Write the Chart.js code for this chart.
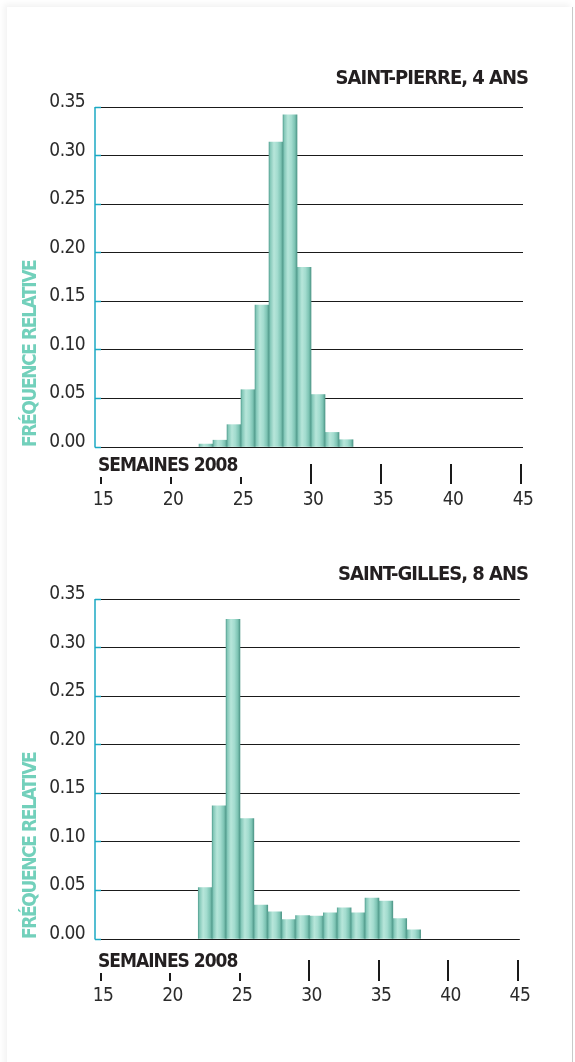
<!DOCTYPE html>
<html>
<head>
<meta charset="utf-8">
<script src="https://cdn.jsdelivr.net/npm/chart.js@4/dist/chart.umd.min.js"></script>
<style>
  html, body { margin:0; padding:0; background:#fff; }
  body { width:575px; height:1062px; position:relative; overflow:hidden; }
  #card { position:absolute; left:7px; top:7px; width:565px; height:1100px;
          border-right:1px solid #c9c9c9; box-shadow:-3px -3px 6px rgba(0,0,0,0.05); background:#fff; }
  canvas { position:absolute; left:0; }
  #c1 { top:0; }
  #c2 { top:492px; }
</style>
</head>
<body>
<div id="card"></div>
<canvas id="c1" width="575" height="531"></canvas>
<canvas id="c2" width="575" height="570"></canvas>
<script>
// ---- data ----
const titles = ['SAINT-PIERRE, 4 ANS', 'SAINT-GILLES, 8 ANS'];
const xAxisLabel = 'SEMAINES 2008';
const yAxisLabel = 'FRÉQUENCE RELATIVE';
const xTicks = [15, 20, 25, 30, 35, 40, 45];
const yTicks = [0, 0.05, 0.10, 0.15, 0.20, 0.25, 0.30, 0.35];

const weeksStPierre = [22, 23, 24, 25, 26, 27, 28, 29, 30, 31, 32];
const freqStPierre  = [0.003, 0.007, 0.023, 0.059, 0.146, 0.314, 0.342, 0.185, 0.054, 0.015, 0.0075];

const weeksStGilles = [22, 23, 24, 25, 26, 27, 28, 29, 30, 31, 32, 33, 34, 35, 36, 37];
const freqStGilles  = [0.053, 0.137, 0.329, 0.124, 0.035, 0.028, 0.020, 0.024, 0.0235, 0.027, 0.032, 0.027, 0.042, 0.039, 0.021, 0.0095];

const FONT = "'DejaVu Sans Condensed', 'Liberation Sans Narrow', sans-serif";

function barFill(c) {
  const chart = c.chart;
  if (!chart.chartArea || !c.raw) return '#96d6c8';
  const xs = chart.scales.x;
  const x0 = xs.getPixelForValue(c.raw.x - 0.5);
  const x1 = xs.getPixelForValue(c.raw.x + 0.5);
  const g = chart.ctx.createLinearGradient(x0, 0, x1, 0);
  g.addColorStop(0, '#5aa596');
  g.addColorStop(0.1, '#86c9ba');
  g.addColorStop(0.35, '#b7e6da');
  g.addColorStop(0.6, '#a3dccf');
  g.addColorStop(0.85, '#7cc3b3');
  g.addColorStop(1, '#4f9788');
  return g;
}

const decor = {
  id: 'decor',
  beforeDraw(chart) {
    chart.ctx.letterSpacing = '-0.6px';
    const y = chart.scales.y;
    if (!y._lsPatched) {
      const orig = y.drawTitle;
      y.drawTitle = function () {
        this.ctx.save();
        this.ctx.letterSpacing = '-1.4px';
        orig.apply(this, arguments);
        this.ctx.restore();
      };
      y._lsPatched = true;
    }
  },
  afterDraw(chart, args, o) {
    const {ctx, chartArea} = chart;
    const x = chart.scales.x, y = chart.scales.y;
    const base = y.getPixelForValue(0);
    ctx.save();
    // cyan y axis line
    ctx.strokeStyle = '#1ba8c3';
    ctx.lineWidth = 1.5;
    ctx.beginPath();
    ctx.moveTo(chartArea.left - 6, y.getPixelForValue(yTicks[yTicks.length - 1]));
    ctx.lineTo(chartArea.left - 6, base + 0.5);
    ctx.stroke();
    // x tick marks
    ctx.strokeStyle = '#1a1a1a';
    ctx.lineWidth = 2;
    xTicks.forEach(v => {
      const px = Math.round(x.getPixelForValue(v));
      const t = v >= 30 ? o.longTop : o.shortTop;
      ctx.beginPath();
      ctx.moveTo(px, base + t);
      ctx.lineTo(px, base + o.tickBottom);
      ctx.stroke();
    });
    // x axis label
    ctx.fillStyle = '#231f20';
    ctx.font = "bold 19px " + FONT;
    ctx.letterSpacing = '-1px';
    ctx.textBaseline = 'middle';
    ctx.textAlign = 'left';
    ctx.fillText(xAxisLabel, 98, base + o.semY);
    // title
    ctx.font = "bold 20px " + FONT;
    ctx.letterSpacing = '-1px';
    ctx.textAlign = 'right';
    ctx.fillText(o.title, 528, o.titleY);
    ctx.restore();
  }
};

function makeChart(id, weeks, freqs, o) {
  return new Chart(document.getElementById(id), {
    type: 'bar',
    data: {
      datasets: [{
        data: weeks.map((w, i) => ({x: w + 0.5, y: freqs[i]})),
        backgroundColor: barFill,
        borderWidth: 0,
        barPercentage: 1,
        categoryPercentage: 1
      }]
    },
    options: {
      responsive: false,
      animation: false,
      layout: { padding: { top: 107, right: 52, left: 0, bottom: 0 } },
      plugins: { legend: { display: false }, tooltip: { enabled: false }, decor: o },
      scales: {
        x: {
          type: 'linear', min: 15, max: 45.14, offset: false,
          grid: { display: false, drawTicks: false },
          border: { display: false },
          afterBuildTicks: s => { s.ticks = xTicks.map(v => ({value: v})); },
          afterFit: s => { s.height = o.xHeight; },
          ticks: { padding: o.xPad, labelOffset: 2, color: '#2b2b2b', maxRotation: 0, autoSkip: false,
                   font: { family: FONT, size: 19 } }
        },
        y: {
          min: 0, max: 0.35,
          grid: { color: '#1a1a1a', lineWidth: 1, tickLength: 6, tickColor: '#1ba8c3', tickWidth: 1.5 },
          border: { display: false },
          afterBuildTicks: s => { s.ticks = yTicks.map(v => ({value: v})); },
          afterFit: s => { s.width = 101; },
          ticks: { padding: 10, labelOffset: -5, color: '#2b2b2b',
                   callback: v => v.toFixed(2),
                   font: { family: FONT, size: 19 } },
          title: { display: true, text: yAxisLabel, align: 'start', color: '#72d0bb',
                   font: { family: FONT, size: 19, weight: 'bold' }, padding: { top: 20, bottom: 0 } }
        }
      }
    },
    plugins: [decor]
  });
}

makeChart('c1', weeksStPierre, freqStPierre,
  { title: titles[0], titleY: 79, xHeight: 84, xPad: 42, longTop: 17, shortTop: 30, tickBottom: 37, semY: 19 });
makeChart('c2', weeksStGilles, freqStGilles,
  { title: titles[1], titleY: 83, xHeight: 123, xPad: 46, longTop: 21, shortTop: 34, tickBottom: 42, semY: 23 });
</script>
</body>
</html>
